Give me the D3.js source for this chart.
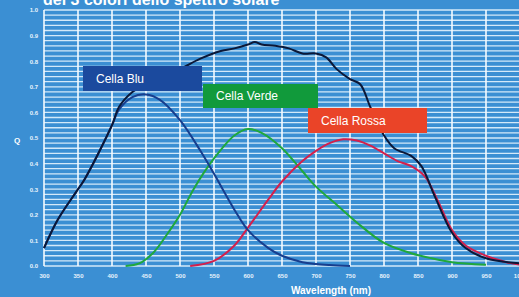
<!DOCTYPE html>
<html>
<head>
<meta charset="utf-8">
<script src="https://cdn.jsdelivr.net/npm/d3@7"></script>
<style>
  body { margin: 0; background: #3b8fd3; }
  svg { display: block; }
</style>
</head>
<body>
<div id="chart"></div>
<script>
// wavelengths (nm) and Q values
const totalNm  = [300, 320, 350, 360, 400, 410, 430, 450, 480, 500, 530, 560, 580, 600, 610, 620, 640, 660, 680, 700, 715, 730, 750, 765, 780, 800, 815, 840, 855, 875, 900, 920, 950, 1000];
const totalQ   = [0.07, 0.18, 0.30, 0.34, 0.55, 0.62, 0.68, 0.71, 0.75, 0.77, 0.81, 0.84, 0.85, 0.865, 0.875, 0.865, 0.86, 0.85, 0.83, 0.83, 0.815, 0.77, 0.73, 0.71, 0.62, 0.51, 0.46, 0.43, 0.39, 0.27, 0.13, 0.07, 0.03, 0.01];

const blueNm   = [300, 320, 350, 360, 400, 410, 430, 450, 470, 500, 530, 550, 580, 600, 630, 650, 680, 700, 720, 750];
const blueQ    = [0.07, 0.18, 0.30, 0.34, 0.55, 0.61, 0.66, 0.67, 0.65, 0.57, 0.45, 0.36, 0.22, 0.14, 0.07, 0.04, 0.015, 0.008, 0.004, 0.0];

const greenNm  = [420, 440, 460, 480, 500, 520, 550, 580, 600, 620, 650, 680, 700, 730, 760, 800, 840, 870, 900, 950];
const greenQ   = [0.0, 0.01, 0.05, 0.12, 0.2, 0.3, 0.42, 0.51, 0.535, 0.52, 0.46, 0.37, 0.31, 0.24, 0.17, 0.09, 0.05, 0.03, 0.015, 0.005];

const redNm    = [515, 550, 580, 600, 630, 650, 680, 700, 720, 740, 760, 780, 800, 820, 840, 860, 880, 900, 920, 950, 980, 1000];
const redQ     = [0.0, 0.02, 0.08, 0.15, 0.26, 0.33, 0.41, 0.45, 0.48, 0.495, 0.49, 0.47, 0.44, 0.41, 0.39, 0.35, 0.25, 0.14, 0.08, 0.04, 0.015, 0.005];

const xTicks = [300, 350, 400, 450, 500, 550, 600, 650, 700, 750, 800, 850, 900, 950, 1000];
const yTicks = [0.0, 0.1, 0.2, 0.3, 0.4, 0.5, 0.6, 0.7, 0.8, 0.9, 1.0];

const legendNames = ["Cella Blu", "Cella Verde", "Cella Rossa"];

const W = 519, H = 297;
const margin = { top: 10, right: -1, bottom: 31, left: 44 };
const width = W - margin.left - margin.right,
      height = H - margin.top - margin.bottom;

const svg = d3.select("#chart").append("svg")
  .attr("width", W)
  .attr("height", H);

svg.append("rect").attr("width", W).attr("height", H).attr("fill", "#3b8fd3");

// title, cut by the top edge as in the original
svg.append("text")
  .attr("x", 43)
  .attr("y", 5)
  .style("font-family", "Liberation Sans, Arial, sans-serif")
  .style("font-weight", "bold")
  .style("font-size", "16px")
  .style("fill", "#fff")
  .text("dei 3 colori dello spettro solare");

const g = svg.append("g")
  .attr("transform", `translate(${margin.left},${margin.top})`);

const x = d3.scaleLinear().domain([300, 1000]).range([0, width]);
const y = d3.scaleLinear().domain([0, 1]).range([height, 0]);

// minor horizontal grid
g.append("g")
  .selectAll("line")
  .data(d3.range(0, 51).map(i => i * 0.02))
  .enter().append("line")
  .attr("x1", 0).attr("x2", width)
  .attr("y1", d => y(d)).attr("y2", d => y(d))
  .attr("stroke", "#d3e9f9")
  .attr("stroke-width", 1.3);

// vertical grid
g.append("g")
  .selectAll("line")
  .data(xTicks)
  .enter().append("line")
  .attr("x1", d => x(d)).attr("x2", d => x(d))
  .attr("y1", 0).attr("y2", height)
  .attr("stroke", "#f4faff")
  .attr("stroke-width", 1.6);

// axes
const xAxis = g.append("g")
  .attr("transform", `translate(0,${height})`)
  .call(d3.axisBottom(x).tickValues(xTicks).tickSize(0).tickPadding(8).tickFormat(d3.format("d")));
const yAxis = g.append("g")
  .call(d3.axisLeft(y).tickValues(yTicks).tickSize(0).tickPadding(6).tickFormat(d3.format(".1f")));

[xAxis, yAxis].forEach(a => {
  a.select(".domain").remove();
  a.selectAll("text")
    .style("fill", "#e8f3fc")
    .style("font-family", "Liberation Sans, Arial, sans-serif")
    .style("font-weight", "bold")
    .style("font-size", "6px");
});

svg.append("text")
  .attr("x", 17).attr("y", 143)
  .attr("text-anchor", "middle")
  .style("font-family", "Liberation Sans, Arial, sans-serif")
  .style("font-weight", "bold")
  .style("font-size", "8px")
  .style("fill", "#fff")
  .text("Q");

svg.append("text")
  .attr("x", 331).attr("y", 294)
  .attr("text-anchor", "middle")
  .style("font-family", "Liberation Sans, Arial, sans-serif")
  .style("font-weight", "bold")
  .style("font-size", "10px")
  .style("fill", "#fff")
  .text("Wavelength (nm)");

const line = d3.line()
  .x(d => x(d[0]))
  .y(d => y(d[1]))
  .curve(d3.curveCatmullRom);

const series = [
  { nm: greenNm, q: greenQ, color: "#1fa83c" },
  { nm: redNm, q: redQ, color: "#d41f4c" },
  { nm: blueNm, q: blueQ, color: "#173e8e" },
  { nm: totalNm, q: totalQ, color: "#0b1838" }
];

series.forEach(s => {
  g.append("path")
    .datum(s.nm.map((n, i) => [n, s.q[i]]))
    .attr("fill", "none")
    .attr("stroke", s.color)
    .attr("stroke-width", 2)
    .attr("d", line);
});

// legend boxes
const legend = [
  { name: legendNames[0], x: 83, y: 66, w: 119, h: 25, fill: "#1b4a9e" },
  { name: legendNames[1], x: 203, y: 84, w: 115, h: 24, fill: "#119a3b" },
  { name: legendNames[2], x: 308, y: 108, w: 119, h: 25, fill: "#ea4428" }
];

legend.forEach(l => {
  svg.append("rect")
    .attr("x", l.x).attr("y", l.y)
    .attr("width", l.w).attr("height", l.h)
    .attr("fill", l.fill);
  svg.append("text")
    .attr("x", l.x + 13).attr("y", l.y + l.h / 2 + 4)
    .style("font-family", "Liberation Sans, Arial, sans-serif")
    .style("font-size", "12px")
    .style("fill", "#fff")
    .text(l.name);
});
</script>
</body>
</html>
